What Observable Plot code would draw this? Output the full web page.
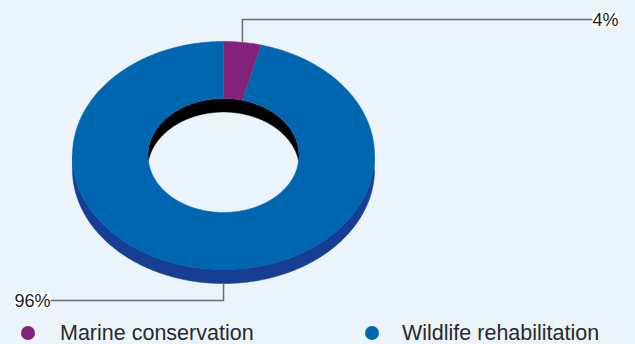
<!DOCTYPE html>
<html><head><meta charset="utf-8">
<script src="https://cdn.jsdelivr.net/npm/d3@7"></script>
<script src="https://cdn.jsdelivr.net/npm/@observablehq/plot@0.6"></script>
<style>
html,body{margin:0;padding:0;background:#ebf3fb;}
#chart{width:635px;height:344px;position:relative;overflow:hidden;font-family:"Liberation Sans",Arial,sans-serif;}
#chart svg{display:block;background:transparent;}
.legend{position:relative;height:26px;}
.legend .dot{position:absolute;width:14px;height:14px;border-radius:50%;top:8px;}
.legend .lab{position:absolute;top:1.5px;font-size:21.5px;line-height:26px;color:#2a2a2a;white-space:nowrap;}
</style></head><body><div id="chart"></div>
<script>
// ---- data ----
const categories = ["Marine conservation", "Wildlife rehabilitation"];
const values = [4, 96];
const valueLabels = ["4%", "96%"];
const colors = ["#822379", "#0066b0"];
const sideColors = ["#5c1a57", "#163f94"];

// ---- layout (unit coordinates: outer radius = 1) ----
const BG = "#ebf3fb";
const INNER = 0.5;          // inner radius ratio
const DEPTH = 14 / 114;     // extrusion depth in y units
const leader = [
  {anchor: "mid", elbowY: -1.193, labelX: 2.444, align: "start"},
  {anchor: Math.PI, elbowY: 1.272, labelX: -1.146, align: "end"}
];

const total = d3.sum(values);
let acc = 0;
const slices = values.map((v, i) => {
  const a0 = acc / total * 2 * Math.PI; acc += v;
  const a1 = acc / total * 2 * Math.PI;
  return {i, a0, a1};
});

const pt = (a, r, dy) => ({x: r * Math.sin(a), y: -r * Math.cos(a) + dy});
function arc(a0, a1, r, dy) {
  const n = Math.max(2, Math.ceil(Math.abs(a1 - a0) / 0.01));
  return d3.range(n + 1).map(k => pt(a0 + (a1 - a0) * k / n, r, dy));
}
const poly = (pts, c) => Plot.line(pts, {x: "x", y: "y", fill: c, stroke: c, strokeWidth: 0.6, curve: "linear"});

const marks = [];
// outer side walls (front half)
for (const s of slices) {
  const s0 = Math.max(s.a0, Math.PI / 2), s1 = Math.min(s.a1, 3 * Math.PI / 2);
  if (s0 < s1) marks.push(poly([...arc(s0, s1, 1, 0), ...arc(s1, s0, 1, DEPTH)], sideColors[s.i]));
}
// inner hole: back inner wall (dark) and see-through background
marks.push(Plot.line(arc(0, 2 * Math.PI, INNER, 0), {x: "x", y: "y", fill: "#000", stroke: "none"}));
marks.push(Plot.line(arc(0, 2 * Math.PI, INNER, DEPTH), {x: "x", y: "y", fill: BG, stroke: BG, strokeWidth: 0.5}));
// top faces
for (const s of slices) {
  marks.push(poly([...arc(s.a0, s.a1, 1, 0), ...arc(s.a1, s.a0, INNER, 0)], colors[s.i]));
}
// leader lines + labels
slices.forEach((s, i) => {
  const L = leader[i];
  const a = L.anchor === "mid" ? (s.a0 + s.a1) / 2 : L.anchor;
  const start = pt(a, 1, Math.cos(a) < 0 ? DEPTH : 0);
  const pts = [start, {x: start.x, y: L.elbowY}, {x: L.labelX, y: L.elbowY}];
  marks.push(Plot.line(pts, {x: "x", y: "y", stroke: "#6b6e76", strokeWidth: 1.5}));
  marks.push(Plot.text([{x: L.labelX, y: L.elbowY, t: valueLabels[i]}], {
    x: "x", y: "y", text: "t", textAnchor: L.align, fontSize: 18, fill: "#231f20",
    fontFamily: "Liberation Sans, Arial, sans-serif", dy: 0.5, className: "pct-label"
  }));
});

const plot = Plot.plot({
  width: 635, height: 318, margin: 0,
  style: {background: "transparent"},
  x: {domain: [-1, 1], range: [72, 374], axis: null},
  y: {domain: [-1, 1], range: [41, 269], axis: null},
  marks
});
const chart = document.getElementById("chart");
chart.appendChild(plot);

// white label backgrounds (tight to text box)
plot.querySelectorAll(".pct-label text").forEach(t => {
  const b = t.getBBox();
  const r = document.createElementNS("http://www.w3.org/2000/svg", "rect");
  r.setAttribute("x", b.x); r.setAttribute("width", b.width);
  r.setAttribute("y", b.y + 2.5); r.setAttribute("height", b.height - 5);
  r.setAttribute("fill", "#fbfdff");
  const tr = t.getAttribute("transform");
  if (tr) r.setAttribute("transform", tr);
  t.parentNode.insertBefore(r, t);
});

// legend
const legend = document.createElement("div");
legend.className = "legend";
const legendX = [{dot: 21, lab: 60}, {dot: 365, lab: 402}];
categories.forEach((c, i) => {
  const d = document.createElement("div");
  d.className = "dot"; d.style.left = legendX[i].dot + "px"; d.style.background = colors[i];
  const t = document.createElement("div");
  t.className = "lab"; t.style.left = legendX[i].lab + "px"; t.textContent = c;
  legend.appendChild(d); legend.appendChild(t);
});
chart.appendChild(legend);
</script></body></html>
